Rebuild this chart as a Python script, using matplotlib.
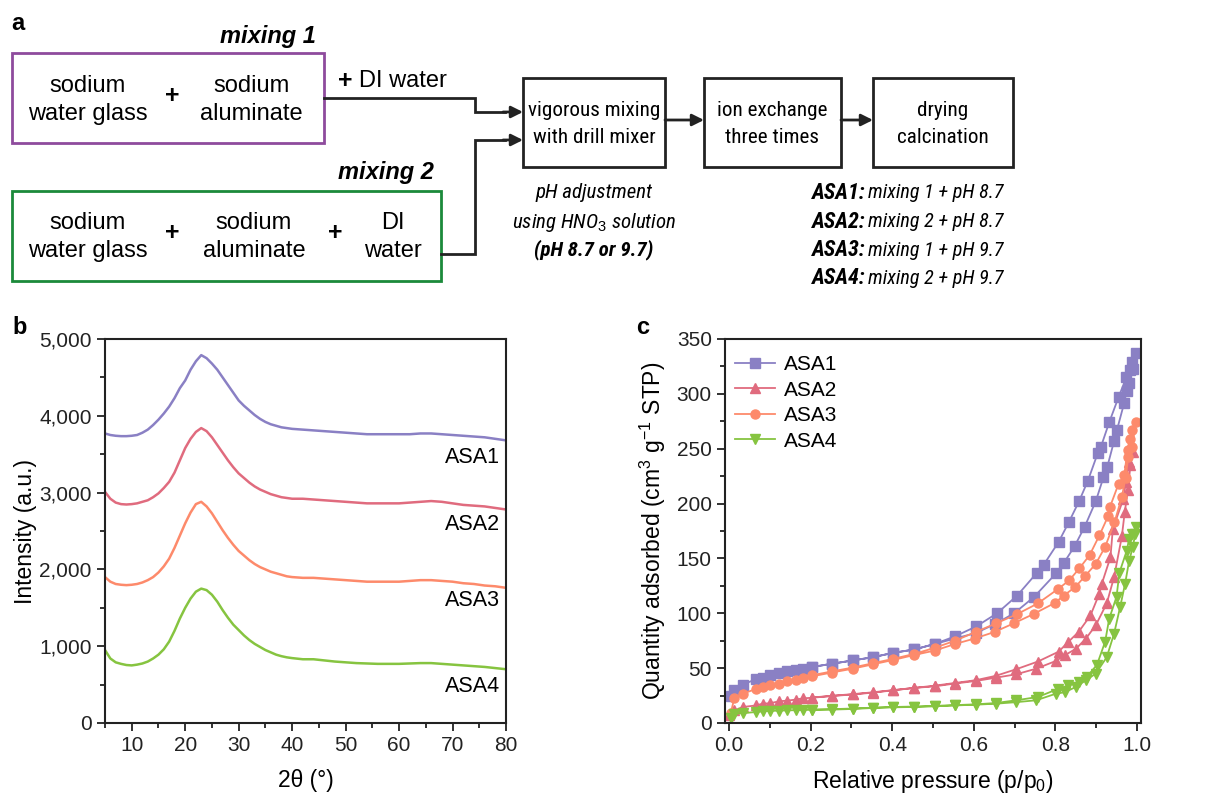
import numpy as np
import matplotlib
matplotlib.use('Agg')
import matplotlib.pyplot as plt
from matplotlib import font_manager
from matplotlib.patches import Rectangle
from matplotlib.ticker import MultipleLocator, FuncFormatter

plt.rcParams['font.family'] = ['Liberation Sans', 'DejaVu Sans']
plt.rcParams['mathtext.fontset'] = 'custom'
plt.rcParams['mathtext.rm'] = 'Liberation Sans'
plt.rcParams['mathtext.it'] = 'Liberation Sans:italic'
plt.rcParams['mathtext.bf'] = 'Liberation Sans:bold'

# condensed font for the process boxes, if one is installed
names = {f.name for f in font_manager.fontManager.ttflist}
NARROW, NSCALE = 'Liberation Sans', 0.8
for cand in ['Liberation Sans Narrow', 'Arial Narrow', 'Roboto Condensed',
             'Noto Sans Condensed', 'Open Sans Condensed']:
    if cand in names:
        NARROW, NSCALE = cand, 1.0
        break

# ---- data: XRD patterns (panel b) ----
two_theta = [5, 6, 7, 8, 9, 10, 11, 12, 13, 14, 15, 16, 17, 18, 19, 20, 21, 22, 23, 24, 25,
             26, 27, 28, 29, 30, 31, 32, 33, 34, 35, 36, 37, 38, 39, 40, 42, 44, 46, 48, 50,
             52, 54, 56, 58, 60, 62, 64, 66, 68, 70, 72, 74, 76, 78, 80]
xrd_asa1 = [3770, 3750, 3740, 3735, 3735, 3740, 3750, 3780, 3820, 3880, 3950, 4030, 4120, 4230,
            4360, 4460, 4600, 4710, 4790, 4750, 4680, 4600, 4500, 4400, 4300, 4200, 4130, 4070,
            4010, 3960, 3920, 3890, 3870, 3850, 3840, 3830, 3820, 3810, 3800, 3790, 3780, 3770,
            3760, 3760, 3760, 3760, 3760, 3770, 3770, 3760, 3750, 3740, 3730, 3720, 3700, 3680]
xrd_asa2 = [3010, 2920, 2870, 2850, 2845, 2850, 2860, 2880, 2900, 2940, 2990, 3060, 3140, 3260,
            3420, 3580, 3700, 3790, 3840, 3800, 3720, 3620, 3520, 3420, 3330, 3250, 3190, 3130,
            3080, 3040, 3010, 2980, 2960, 2940, 2930, 2920, 2920, 2910, 2900, 2890, 2880, 2870,
            2860, 2860, 2860, 2860, 2870, 2880, 2890, 2880, 2860, 2840, 2830, 2820, 2800, 2780]
xrd_asa3 = [1900, 1840, 1810, 1800, 1795, 1800, 1810, 1830, 1860, 1900, 1960, 2040, 2140, 2280,
            2440, 2600, 2740, 2850, 2880, 2820, 2730, 2620, 2510, 2410, 2320, 2240, 2180, 2120,
            2070, 2030, 2000, 1970, 1950, 1930, 1910, 1900, 1890, 1890, 1880, 1870, 1860, 1850,
            1840, 1840, 1840, 1840, 1850, 1860, 1860, 1850, 1840, 1820, 1810, 1790, 1780, 1760]
xrd_asa4 = [950, 840, 790, 770, 755, 750, 760, 775, 800, 840, 890, 960, 1060, 1200, 1360, 1500,
            1620, 1710, 1750, 1730, 1670, 1580, 1470, 1370, 1280, 1210, 1140, 1080, 1030, 990,
            950, 920, 890, 870, 855, 845, 830, 830, 815, 800, 790, 780, 775, 770, 770, 770, 775,
            780, 780, 770, 760, 750, 740, 730, 715, 700]
xrd_label_y = [3460, 2580, 1600, 470]

# ---- data: N2 isotherms (panel c), adsorption then desorption ----
p_asa1_ads = [0.005, 0.013, 0.034, 0.066, 0.082, 0.10, 0.123, 0.143, 0.163, 0.182, 0.203, 0.252,
              0.303, 0.353, 0.403, 0.454, 0.504, 0.554, 0.605, 0.651, 0.699, 0.748, 0.802, 0.821,
              0.847, 0.872, 0.899, 0.918, 0.927, 0.944, 0.951, 0.969, 0.975, 0.981, 0.990, 0.998]
q_asa1_ads = [25, 30, 35, 40, 41, 43.5, 45.6, 47, 48, 49, 51, 54, 57, 60, 64, 67, 72, 77, 82, 90,
              100, 115, 136.5, 146, 161, 179, 202, 224, 233, 257, 267, 292, 303, 310, 323, 337]
p_asa1_des = [0.988, 0.982, 0.974, 0.955, 0.932, 0.912, 0.904, 0.880, 0.858, 0.833, 0.808, 0.771,
              0.755, 0.706, 0.657, 0.606, 0.554, 0.504, 0.454, 0.403, 0.353, 0.303, 0.252, 0.203]
q_asa1_des = [329, 322, 315, 297, 274, 252, 246, 221, 202, 183, 165, 144, 137, 116, 100, 88, 79,
              72, 67, 64, 60, 57, 54, 51]

p_asa2_ads = [0.001, 0.013, 0.034, 0.066, 0.082, 0.10, 0.123, 0.143, 0.163, 0.182, 0.203, 0.252,
              0.303, 0.353, 0.403, 0.454, 0.504, 0.554, 0.605, 0.654, 0.704, 0.753, 0.801, 0.823,
              0.851, 0.875, 0.899, 0.926, 0.944, 0.963, 0.970, 0.978, 0.984, 0.990]
q_asa2_ads = [7, 11.5, 14.6, 16, 17.6, 18, 19.8, 20.4, 21.3, 22.5, 23, 24.6, 26, 27.7, 29.8, 32,
              33.4, 36, 38.3, 41.3, 44.4, 49.5, 56.5, 61.7, 67.8, 77, 89, 109, 133, 170, 192, 212,
              235, 247]
p_asa2_des = [0.981, 0.973, 0.967, 0.941, 0.935, 0.914, 0.908, 0.886, 0.857, 0.832, 0.808, 0.757,
              0.704, 0.654, 0.605, 0.554, 0.504, 0.454, 0.403, 0.353, 0.303, 0.252, 0.203]
q_asa2_des = [238, 220, 204.6, 177, 151, 127, 118, 98, 83, 74, 65, 56, 49, 43, 39, 36.5, 34, 32,
              30, 28, 26.3, 24.8, 23.2]

p_asa3_ads = [0.004, 0.013, 0.034, 0.066, 0.082, 0.10, 0.123, 0.143, 0.163, 0.182, 0.203, 0.252,
              0.303, 0.353, 0.403, 0.454, 0.504, 0.554, 0.602, 0.651, 0.699, 0.748, 0.799, 0.820,
              0.849, 0.873, 0.899, 0.922, 0.945, 0.963, 0.972, 0.979, 0.988, 0.998]
q_asa3_ads = [9, 22.8, 26.8, 31, 33, 34.7, 36, 38, 39.5, 41, 42.5, 46, 49.5, 53.5, 57.5, 62, 66,
              72, 77, 83, 91, 99.6, 109.5, 116, 124, 134, 145, 160.5, 183, 206, 223, 242.6, 252,
              274.5]
p_asa3_des = [0.989, 0.982, 0.977, 0.969, 0.955, 0.934, 0.930, 0.908, 0.884, 0.859, 0.834, 0.806,
              0.757, 0.705, 0.654, 0.605, 0.554, 0.504, 0.454, 0.403, 0.353, 0.303, 0.252, 0.203]
q_asa3_des = [267, 259, 249, 226, 218, 197, 189, 171, 153, 141, 130, 122, 109, 99, 90.7, 83, 75,
              68.5, 63, 58.5, 54.5, 50.5, 47, 43.5]

p_asa4_ads = [0.004, 0.013, 0.034, 0.066, 0.082, 0.10, 0.123, 0.143, 0.163, 0.182, 0.203, 0.252,
              0.303, 0.353, 0.403, 0.454, 0.504, 0.554, 0.605, 0.654, 0.704, 0.753, 0.802, 0.823,
              0.851, 0.875, 0.899, 0.926, 0.944, 0.959, 0.971, 0.981, 0.990, 0.996, 0.998]
q_asa4_ads = [5, 8.5, 9, 10, 10.6, 11, 11.3, 11.5, 11.7, 11.9, 12, 12.2, 12.8, 13.7, 14.3, 14.6,
              15.2, 16, 16.7, 17.6, 19, 20.7, 26.8, 28, 33, 39, 45, 60, 81.5, 106, 127, 148,
              160.5, 172.7, 178.8]
p_asa4_des = [0.988, 0.981, 0.975, 0.957, 0.950, 0.932, 0.922, 0.902, 0.877, 0.857, 0.832, 0.806,
              0.757, 0.704, 0.654, 0.605, 0.554, 0.504, 0.454, 0.403, 0.353, 0.303, 0.252, 0.203]
q_asa4_des = [172, 168, 157, 137, 115, 95, 74, 53, 42, 37.7, 34.3, 31, 23.7, 20.7, 18.2, 17,
              16.3, 15.6, 15, 14.6, 14, 13.2, 12.6, 12.2]

samples = ['ASA1', 'ASA2', 'ASA3', 'ASA4']
recipes = ['mixing 1 + pH 8.7', 'mixing 2 + pH 8.7', 'mixing 1 + pH 9.7', 'mixing 2 + pH 9.7']
colors = ['#8a80c4', '#e06b7e', '#fd8a6b', '#86c440']
markers = ['s', '^', 'o', 'v']

INK = '#222222'
FS = 15      # tick labels
LFS = 16.5   # axis labels
BFS = 17     # flow chart, left boxes

fig = plt.figure(figsize=(12.27, 7.95), dpi=100)

# ---- panel a: flow chart drawn in pixel coordinates ----
ax0 = fig.add_axes([0, 0, 1, 1])
ax0.set_xlim(0, 1227)
ax0.set_ylim(795, 0)
ax0.axis('off')


def box(x0, y0, x1, y1, ec):
    ax0.add_patch(Rectangle((x0, y0), x1 - x0, y1 - y0, fill=False, ec=ec, lw=2.0))


def arrow(x0, y0, x1, y1):
    ax0.annotate('', xy=(x1, y1), xytext=(x0, y0),
                 arrowprops=dict(arrowstyle='-|>,head_length=0.7,head_width=0.35',
                                 color=INK, lw=2.0, shrinkA=0, shrinkB=0))


ax0.text(11, 24, 'a', fontsize=17, fontweight='bold', va='center', ha='left')

box(12, 53, 324, 143, '#8e4b9d')
ax0.text(316, 36, 'mixing 1', fontsize=BFS, fontweight='bold', style='italic', ha='right', va='center')
ax0.text(88, 100, 'sodium\nwater glass', fontsize=BFS, ha='center', va='center', linespacing=1.3)
ax0.text(172, 96, '+', fontsize=18, fontweight='bold', ha='center', va='center')
ax0.text(251, 100, 'sodium\naluminate', fontsize=BFS, ha='center', va='center', linespacing=1.3)

box(12, 191, 441, 281, '#1b8a3a')
ax0.text(434, 173, 'mixing 2', fontsize=BFS, fontweight='bold', style='italic', ha='right', va='center')
ax0.text(88, 237, 'sodium\nwater glass', fontsize=BFS, ha='center', va='center', linespacing=1.3)
ax0.text(172, 233, '+', fontsize=18, fontweight='bold', ha='center', va='center')
ax0.text(254, 237, 'sodium\naluminate', fontsize=BFS, ha='center', va='center', linespacing=1.3)
ax0.text(335, 233, '+', fontsize=18, fontweight='bold', ha='center', va='center')
ax0.text(393, 237, 'DI\nwater', fontsize=BFS, ha='center', va='center', linespacing=1.3)

ax0.text(345, 81, '+', fontsize=18, fontweight='bold', ha='center', va='center')
ax0.text(359, 81, 'DI water', fontsize=BFS, ha='left', va='center')

ax0.plot([324, 475, 475, 505], [98, 98, 112, 112], color=INK, lw=2.0, solid_joinstyle='miter')
arrow(503, 112, 523, 112)
ax0.plot([441, 475, 475, 505], [254, 254, 140, 140], color=INK, lw=2.0, solid_joinstyle='miter')
arrow(503, 140, 523, 140)

nfs_box = 15.2 * NSCALE
nfs_note = 15 * NSCALE
box(523, 78, 665, 167, INK)
ax0.text(594, 124, 'vigorous mixing\nwith drill mixer', fontsize=nfs_box, family=NARROW,
         ha='center', va='center', linespacing=1.5)
arrow(665, 120, 704, 120)
box(704, 78, 841, 167, INK)
ax0.text(772, 124, 'ion exchange\nthree times', fontsize=nfs_box, family=NARROW,
         ha='center', va='center', linespacing=1.5)
arrow(841, 120, 873, 120)
box(873, 78, 1013, 167, INK)
ax0.text(943, 124, 'drying\ncalcination', fontsize=nfs_box, family=NARROW,
         ha='center', va='center', linespacing=1.5)

ax0.text(594, 192, 'pH adjustment', fontsize=nfs_note, family=NARROW, style='italic',
         ha='center', va='center')
ax0.text(594, 222, r'using HNO$_3$ solution', fontsize=nfs_note, family=NARROW, style='italic',
         ha='center', va='center')
ax0.text(594, 250, '(pH 8.7 or 9.7)', fontsize=nfs_note, family=NARROW, style='italic',
         fontweight='bold', ha='center', va='center')

for i, (s, r) in enumerate(zip(samples, recipes)):
    y = 193 + 28.5 * i
    ax0.text(812, y, s + ':', fontsize=15.8 * NSCALE, family=NARROW, style='italic',
             fontweight='bold', ha='left', va='center')
    ax0.text(1003, y, r, fontsize=14.5 * NSCALE, family=NARROW, style='italic',
             ha='right', va='center')


def style_axes(ax):
    for sp in ax.spines.values():
        sp.set_color(INK)
        sp.set_linewidth(1.5)
    ax.tick_params(which='both', direction='out', top=False, right=False, colors=INK,
                   labelsize=FS, width=1.3)
    ax.tick_params(which='major', length=6)
    ax.tick_params(which='minor', length=3.5)


# ---- panel b: XRD ----
axb = fig.add_axes([105 / 1227, 1 - 723 / 795, 401 / 1227, 384 / 795])
for ys, c in zip([xrd_asa1, xrd_asa2, xrd_asa3, xrd_asa4], colors):
    axb.plot(two_theta, ys, color=c, lw=1.8)
for s, ly in zip(samples, xrd_label_y):
    axb.text(78.8, ly, s, fontsize=FS + 0.5, ha='right', va='center')
axb.set_xlim(5, 80)
axb.set_ylim(0, 5000)
axb.xaxis.set_major_locator(MultipleLocator(10))
axb.xaxis.set_minor_locator(MultipleLocator(5))
axb.yaxis.set_major_locator(MultipleLocator(1000))
axb.yaxis.set_minor_locator(MultipleLocator(500))
axb.yaxis.set_major_formatter(FuncFormatter(lambda v, p: f'{int(v):,}'))
style_axes(axb)
axb.set_xlabel('2θ (°)', fontsize=LFS, labelpad=10)
axb.set_ylabel('Intensity (a.u.)', fontsize=LFS, labelpad=2)
fig.text(12 / 1227, 1 - 328 / 795, 'b', fontsize=17, fontweight='bold', va='center')

# ---- panel c: isotherms ----
axc = fig.add_axes([725 / 1227, 1 - 723 / 795, 416 / 1227, 384 / 795])
iso = [(p_asa1_ads, q_asa1_ads, p_asa1_des, q_asa1_des),
       (p_asa2_ads, q_asa2_ads, p_asa2_des, q_asa2_des),
       (p_asa3_ads, q_asa3_ads, p_asa3_des, q_asa3_des),
       (p_asa4_ads, q_asa4_ads, p_asa4_des, q_asa4_des)]
for (pa, qa, pd_, qd), c, m, s in zip(iso, colors, markers, samples):
    axc.plot(pa + pd_, qa + qd, color=c, lw=1.3, marker=m, ms=6.5, mec=c, label=s)
axc.set_xlim(-0.01, 1.01)
axc.set_ylim(0, 350)
axc.xaxis.set_major_locator(MultipleLocator(0.2))
axc.xaxis.set_minor_locator(MultipleLocator(0.1))
axc.yaxis.set_major_locator(MultipleLocator(50))
axc.yaxis.set_minor_locator(MultipleLocator(25))
axc.xaxis.set_major_formatter(FuncFormatter(lambda v, p: f'{v:.1f}'))
style_axes(axc)
axc.set_xlabel('Relative pressure (p/p$_0$)', fontsize=LFS, labelpad=9)
axc.set_ylabel('Quantity adsorbed (cm$^3$ g$^{-1}$ STP)', fontsize=LFS, labelpad=6)
axc.legend(loc='upper left', frameon=False, fontsize=FS, handlelength=1.9, handletextpad=0.45,
           labelspacing=0.31, borderaxespad=0.25, bbox_to_anchor=(-0.008, 0.993))
fig.text(636 / 1227, 1 - 328 / 795, 'c', fontsize=17, fontweight='bold', va='center')

fig.savefig('out.png', dpi=100)
